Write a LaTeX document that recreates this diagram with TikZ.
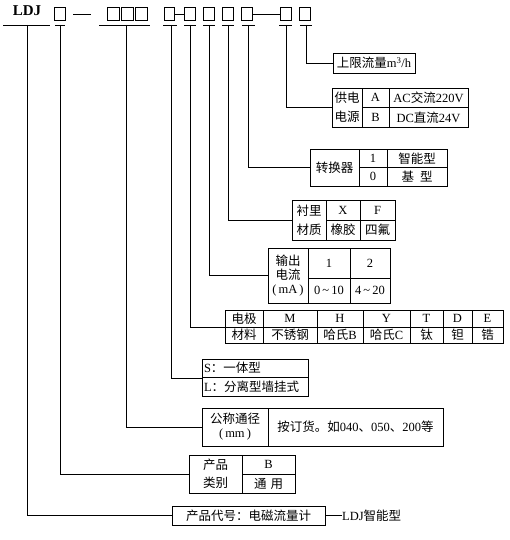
\documentclass[tikz,border=0pt]{standalone}
\usepackage{fontspec}
\setmainfont{Liberation Serif}
\newfontfamily\cjk{Noto Sans CJK SC}
\newcommand{\zh}[1]{{\cjk #1}}
\usetikzlibrary{positioning, calc}

\begin{document}
\begin{tikzpicture}[x=1pt, y=-1pt,
    slot/.style={draw, line width=0.8pt, inner sep=0pt, minimum width=11.5pt, minimum height=12.5pt},
    cell/.style={draw, line width=0.9pt, inner sep=0pt, align=center, font=\fontsize{12.5}{14}\selectfont},
    wire/.style={line width=0.9pt}
]
\useasboundingbox (0,0) rectangle (510,540);

% Model code
\node[anchor=base, font=\fontsize{15}{15}\selectfont\bfseries] (ldj) at (27,16) {LDJ};
\node[slot] (s1) at (60,14) {};
\node[slot] (s2a) at (113.5,14) {};
\node[slot] (s2b) at (127.5,14) {};
\node[slot] (s2c) at (141.5,14) {};
\node[slot, minimum width=10pt] (s3) at (169,14) {};
\node[slot] (s4) at (190,14) {};
\node[slot] (s5) at (209,14) {};
\node[slot] (s6) at (228,14) {};
\node[slot] (s7) at (247,14) {};
\node[slot] (s8) at (286,14) {};
\node[slot] (s9) at (305,14) {};

% Dashes
\draw[wire] ([xshift=7pt]s1.east) -- ([xshift=25pt]s1.east);
\draw[wire] (s3.east) -- (s4.west);
\draw[wire] (s7.east) -- (s8.west);

% Ticks under the code
\coordinate (t1) at (27,25);
\coordinate (t2) at (60,25);
\coordinate (t3) at (126,25);
\coordinate (t4) at (171,25);
\coordinate (t5) at (190,25);
\coordinate (t6) at (209,25);
\coordinate (t7) at (228,25);
\coordinate (t8) at (248,25);
\coordinate (t9) at (286,25);
\coordinate (t10) at (306,25);
\draw[wire] ([xshift=-24pt]t1) -- ([xshift=23pt]t1);
\draw[wire] ([xshift=-27pt]t3) -- ([xshift=24pt]t3);
\draw[wire] ([xshift=-5pt]t2) -- ([xshift=5pt]t2);
\draw[wire] ([xshift=-8pt]t4) -- ([xshift=6pt]t4);
\draw[wire] ([xshift=-6pt]t5) -- ([xshift=6pt]t5);
\draw[wire] ([xshift=-6pt]t6) -- ([xshift=6pt]t6);
\draw[wire] ([xshift=-6pt]t7) -- ([xshift=6pt]t7);
\draw[wire] ([xshift=-6pt]t8) -- ([xshift=7pt]t8);
\draw[wire] ([xshift=-7pt]t9) -- ([xshift=6pt]t9);
\draw[wire] ([xshift=-6pt]t10) -- ([xshift=6pt]t10);

% Upper flow limit
\node[cell, minimum width=82pt, minimum height=20pt] (lim) at (374,63) {\zh{上限流量}m\textsuperscript{3}/h};

% Power supply
\node[cell, minimum width=30pt, minimum height=39pt] (pwh) at (347,107.5) {\zh{供电}\\[5pt]\zh{电源}};
\node[cell, minimum width=27pt, minimum height=19.5pt] (pwa) at (375.5,97.75) {A};
\node[cell, minimum width=27pt, minimum height=19.5pt] (pwb) at (375.5,117.25) {B};
\node[cell, minimum width=79pt, minimum height=19.5pt] (pwac) at (428.5,97.75) {AC\zh{交流}220V};
\node[cell, minimum width=79pt, minimum height=19.5pt] (pwdc) at (428.5,117.25) {DC\zh{直流}24V};

% Converter
\node[cell, minimum width=49pt, minimum height=37pt] (cvh) at (334.5,167.5) {\zh{转换器}};
\node[cell, minimum width=28pt, minimum height=18.5pt] (cv1) at (373,158.25) {1};
\node[cell, minimum width=28pt, minimum height=18.5pt] (cv0) at (373,176.75) {0};
\node[cell, minimum width=60pt, minimum height=18.5pt] (cvs) at (417,158.25) {\zh{智能型}};
\node[cell, minimum width=60pt, minimum height=18.5pt] (cvb) at (417,176.75) {\zh{基\hspace{6pt}型}};

% Lining material
\node[cell, minimum width=34pt, minimum height=40pt] (lnh) at (309,220) {\zh{衬里}\\[5pt]\zh{材质}};
\node[cell, minimum width=34pt, minimum height=20pt] (lnx) at (343,210) {X};
\node[cell, minimum width=34pt, minimum height=20pt] (lnr) at (343,230) {\zh{橡胶}};
\node[cell, minimum width=35pt, minimum height=20pt] (lnf) at (377.5,210) {F};
\node[cell, minimum width=35pt, minimum height=20pt] (lnp) at (377.5,230) {\zh{四氟}};

% Output current
\node[cell, minimum width=40pt, minimum height=55pt] (oph) at (288,275.5) {\zh{输出}\\\zh{电流}\\(\,mA\,)};
\node[cell, minimum width=42pt, minimum height=30pt] (op1) at (329,263) {1};
\node[cell, minimum width=42pt, minimum height=25pt] (op010) at (329,290.5) {0\,\textasciitilde\,10};
\node[cell, minimum width=40pt, minimum height=30pt] (op2) at (370,263) {2};
\node[cell, minimum width=40pt, minimum height=25pt] (op420) at (370,290.5) {4\,\textasciitilde\,20};

% Electrode material
\node[cell, minimum width=38pt, minimum height=17pt] (elh) at (244,318.5) {\zh{电极}};
\node[cell, minimum width=38pt, minimum height=16pt] (elm) at (244,335) {\zh{材料}};
\node[cell, minimum width=54pt, minimum height=17pt] (elM) at (290,318.5) {M};
\node[cell, minimum width=54pt, minimum height=16pt] (elss) at (290,335) {\zh{不锈钢}};
\node[cell, minimum width=46pt, minimum height=17pt] (elH) at (340,318.5) {H};
\node[cell, minimum width=46pt, minimum height=16pt] (elhb) at (340,335) {\zh{哈氏}B};
\node[cell, minimum width=47pt, minimum height=17pt] (elY) at (386.5,318.5) {Y};
\node[cell, minimum width=47pt, minimum height=16pt] (elhc) at (386.5,335) {\zh{哈氏}C};
\node[cell, minimum width=33pt, minimum height=17pt] (elT) at (426.5,318.5) {T};
\node[cell, minimum width=33pt, minimum height=16pt] (elti) at (426.5,335) {\zh{钛}};
\node[cell, minimum width=29pt, minimum height=17pt] (elD) at (457.5,318.5) {D};
\node[cell, minimum width=29pt, minimum height=16pt] (elta) at (457.5,335) {\zh{钽}};
\node[cell, minimum width=31pt, minimum height=17pt] (elE) at (487.5,318.5) {E};
\node[cell, minimum width=31pt, minimum height=16pt] (elzr) at (487.5,335) {\zh{锆}};

% Construction type
\node[cell, align=left, text width=102pt, minimum width=106pt, minimum height=18.5pt] (tys) at (255,368.25) {S\zh{：一体型}};
\node[cell, align=left, text width=102pt, minimum width=106pt, minimum height=18.5pt] (tyl) at (255,386.75) {L\zh{：分离型墙挂式}};

% Nominal diameter
\node[cell, minimum width=66pt, minimum height=38pt] (boh) at (235,427) {\zh{公称通径}\\(\,mm\,)};
\node[cell, minimum width=175pt, minimum height=38pt] (bov) at (355.5,427) {\zh{按订货。如}040\zh{、}050\zh{、}200\zh{等}};

% Product class
\node[cell, minimum width=53pt, minimum height=38pt] (pth) at (215.5,474) {\zh{产品}\\[4pt]\zh{类别}};
\node[cell, minimum width=53pt, minimum height=19pt] (ptb) at (268.5,464.5) {B};
\node[cell, minimum width=53pt, minimum height=19pt] (ptg) at (268.5,483.5) {\zh{通\hspace{4pt}用}};

% Product code
\node[cell, minimum width=153pt, minimum height=19pt] (code) at (248.5,515.5) {\zh{产品代号：电磁流量计}};
\node[anchor=west, inner sep=0pt, font=\fontsize{12.5}{14}\selectfont] (ldjn) at (342,515.5) {LDJ\zh{智能型}};
\draw[wire] (code.east) -- (ldjn.west);

% Leader lines
\draw[wire] (t10) |- (lim.west);
\draw[wire] (t9) |- (pwh.west);
\draw[wire] (t8) |- (cvh.west);
\draw[wire] (t7) |- (lnh.west);
\draw[wire] (t6) |- (oph.west);
\draw[wire] (t5) |- (elh.south west);
\draw[wire] (t4) |- (tys.south west);
\draw[wire] (t3) |- (boh.west);
\draw[wire] (t2) |- (pth.west);
\draw[wire] (t1) |- (code.west);

\end{tikzpicture}
\end{document}
